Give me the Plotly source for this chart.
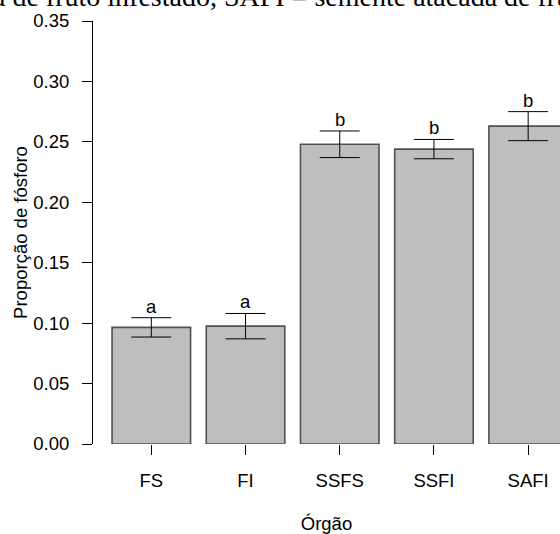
import plotly.graph_objects as go

# Phosphorus proportion by organ (mean ± standard error) with Tukey group letters
organs = ["FS", "FI", "SSFS", "SSFI", "SAFI"]
means = [0.0965, 0.0975, 0.248, 0.244, 0.263]
errors = [0.008, 0.0105, 0.011, 0.008, 0.012]
groups = ["a", "a", "b", "b", "b"]

caption = "a de fruto infestado, SAFI = semente atacada de fruto infestado"

sans = "Liberation Sans, Arial, sans-serif"
serif = "Liberation Serif, Times New Roman, serif"

fig = go.Figure()
fig.add_trace(go.Bar(
    x=organs,
    y=means,
    marker=dict(color="#BEBEBE", line=dict(color="#505050", width=1.6)),
    error_y=dict(type="data", array=errors, visible=True,
                 color="black", thickness=1, width=20),
    showlegend=False,
))

# group letters above each error bar
for organ, m, e, g in zip(organs, means, errors, groups):
    fig.add_annotation(x=organ, y=m + e, text=g, showarrow=False,
                       xref="x", yref="y", yanchor="bottom", yshift=-1,
                       font=dict(family=sans, size=18.5, color="black"))

# caption line running across the top
fig.add_annotation(text=caption, xref="paper", yref="paper",
                   x=-0.218, y=1.058, xanchor="left", yanchor="middle",
                   showarrow=False,
                   font=dict(family=serif, size=28, color="black"))

fig.update_layout(
    width=560, height=534,
    margin=dict(l=93, r=0, t=21, b=90),
    plot_bgcolor="white", paper_bgcolor="white",
    bargap=0.1667,
    font=dict(family=sans, size=18.5, color="black"),
)
fig.update_xaxes(
    type="category", range=[-0.619, 4.338],
    showline=False, showgrid=False, zeroline=False,
    ticks="outside", ticklen=10, tickwidth=1, tickcolor="black",
    ticklabelstandoff=10,
    tickfont=dict(family=sans, size=18.5, color="black"),
    title=dict(text="Órgão", standoff=26,
               font=dict(family=sans, size=18.5, color="black")),
)
fig.update_yaxes(
    range=[0, 0.35], dtick=0.05, tickformat=".2f",
    showline=True, linecolor="black", linewidth=1,
    showgrid=False, zeroline=False,
    ticks="outside", ticklen=10, tickwidth=1, tickcolor="black",
    ticklabelstandoff=9,
    tickfont=dict(family=sans, size=18.5, color="black"),
    title=dict(text="Proporção de fósforo", standoff=0.5,
               font=dict(family=sans, size=18.5, color="black")),
)

fig.write_html("out.html")
